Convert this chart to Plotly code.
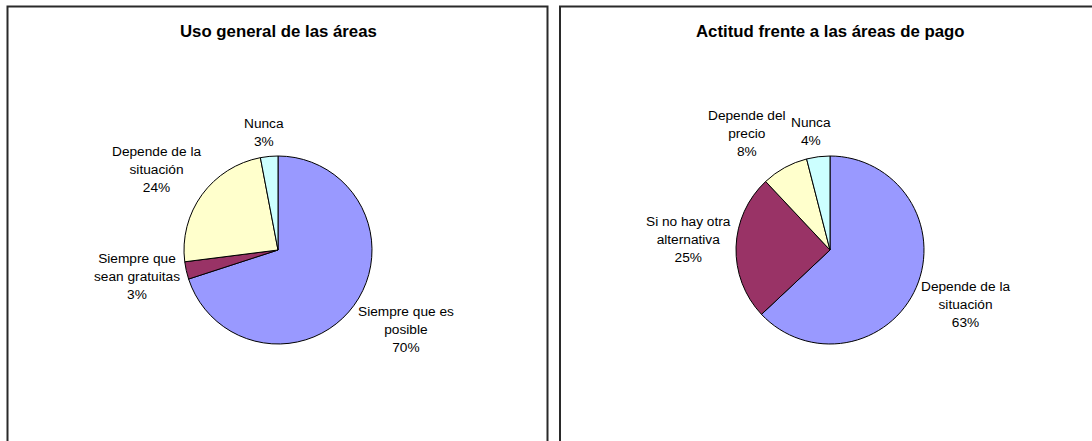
import plotly.graph_objects as go

# ---- data ----
left_title = "Uso general de las áreas"
left_labels = ["Siempre que es posible", "Siempre que sean gratuitas",
               "Depende de la situación", "Nunca"]
left_text = ["Siempre que es<br>posible", "Siempre que<br>sean gratuitas",
             "Depende de la<br>situación", "Nunca"]
left_values = [70, 3, 24, 3]

right_title = "Actitud frente a las áreas de pago"
right_labels = ["Depende de la situación", "Si no hay otra alternativa",
                "Depende del precio", "Nunca"]
right_text = ["Depende de la<br>situación", "Si no hay otra<br>alternativa",
              "Depende del<br>precio", "Nunca"]
right_values = [63, 25, 8, 4]

colors = ["#9999FF", "#993366", "#FFFFCC", "#CCFFFF"]

# ---- layout (pixel positions in the 1092x441 page) ----
W, H = 1092, 441
FONT = "Liberation Sans, Arial, sans-serif"
R = 94
left_center = (278, 250)
right_center = (830, 250)
# label block centres (layout only)
left_label_pos = [(406, 329), (137, 276), (156, 169.5), (264, 132.5)]
right_label_pos = [(965, 304), (688, 239), (747, 133.3), (811, 131.7)]


def dom(cx, cy, r):
    return dict(x=[(cx - r) / W, (cx + r) / W],
                y=[(H - cy - r) / H, (H - cy + r) / H])


fig = go.Figure()
for labels, text, values, center, lpos in [
        (left_labels, left_text, left_values, left_center, left_label_pos),
        (right_labels, right_text, right_values, right_center, right_label_pos)]:
    fig.add_trace(go.Pie(
        labels=labels, values=values,
        textinfo="none", sort=False, direction="clockwise",
        rotation=0, hole=0,
        marker=dict(colors=colors, line=dict(color="black", width=1)),
        domain=dom(center[0], center[1], R), showlegend=False,
        hoverinfo="label+percent",
    ))
    total = sum(values)
    for t, v, (lx, ly) in zip(text, values, lpos):
        fig.add_annotation(
            text="%s<br>%d%%" % (t, round(100 * v / total)),
            x=lx / W, y=(H - ly) / H, xref="paper", yref="paper",
            showarrow=False, xanchor="center", yanchor="middle", align="center",
            font=dict(family=FONT, size=13.7, color="black"))

# panel borders
for x0, x1 in [(7.5, 547.5), (560, 1100)]:
    fig.add_shape(type="rect", xref="paper", yref="paper",
                  x0=x0 / W, x1=x1 / W, y0=-0.1, y1=(H - 6.5) / H,
                  line=dict(color="#2a2a2a", width=2))

for t, (cx, _) in [(left_title, left_center), (right_title, right_center)]:
    fig.add_annotation(text="<b>%s</b>" % t, x=cx / W, y=(H - 31) / H,
                       xref="paper", yref="paper", showarrow=False,
                       xanchor="center", yanchor="middle",
                       font=dict(family=FONT, size=16.8, color="black"))

fig.update_layout(width=W, height=H, margin=dict(l=0, r=0, t=0, b=0),
                  paper_bgcolor="white", plot_bgcolor="white")
fig.write_html("out.html", config={"displayModeBar": False},
               post_script="document.body.style.margin='0';"
                           "document.body.style.overflow='hidden';")
